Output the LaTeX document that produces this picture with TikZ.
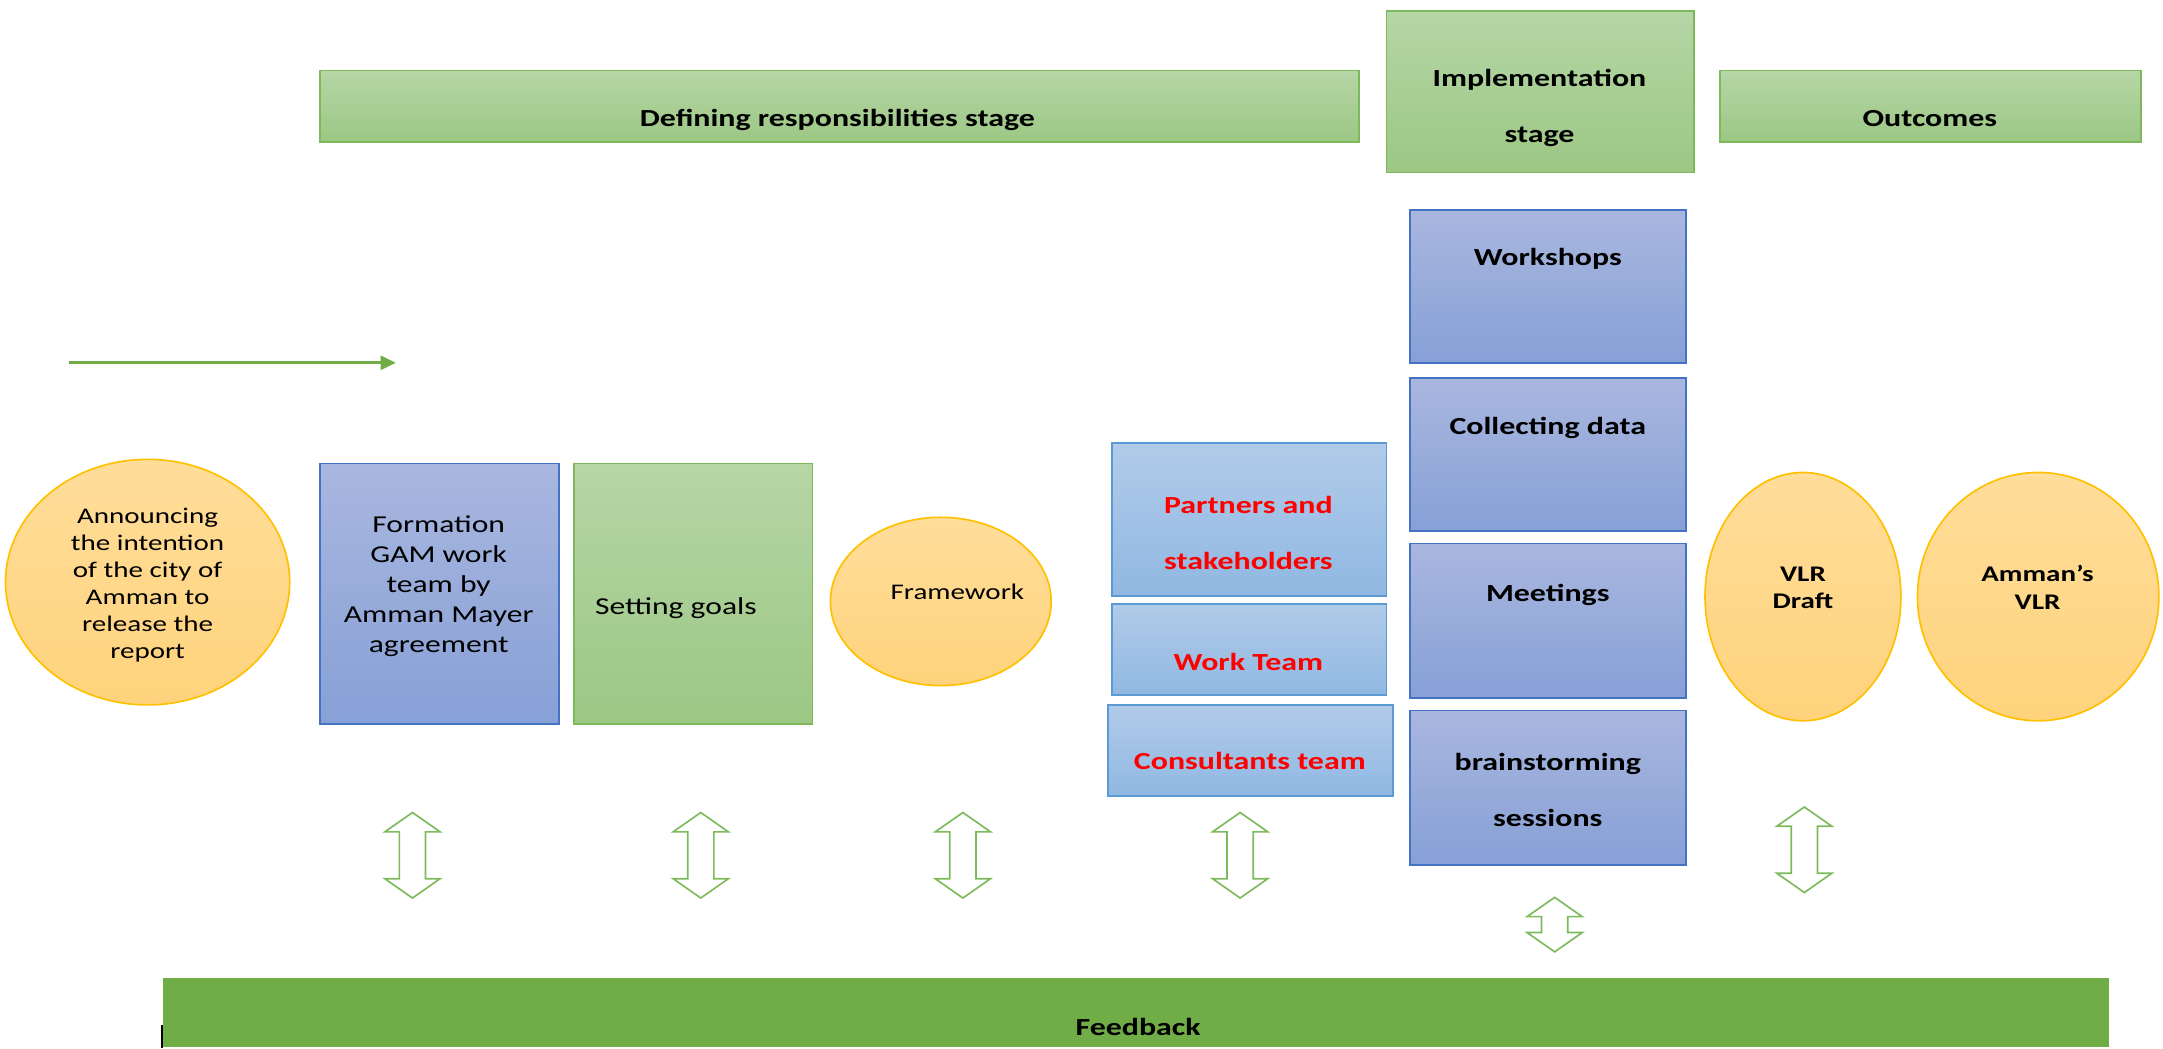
\documentclass[tikz,border=0pt]{standalone}
\usepackage{fontspec}
\setmainfont{Carlito}[FakeStretch=1.3]
\usetikzlibrary{shapes.geometric,fit,arrows.meta}
\definecolor{grnT}{HTML}{B6D6A6}
\definecolor{grnD}{HTML}{9CC784}
\definecolor{grnB}{HTML}{7DB95A}
\definecolor{bluT}{HTML}{A9B7DF}
\definecolor{bluD}{HTML}{87A0D6}
\definecolor{bluB}{HTML}{4472C4}
\definecolor{lbT}{HTML}{B1CBE9}
\definecolor{lbD}{HTML}{90B8E2}
\definecolor{lbB}{HTML}{5B9BD5}
\definecolor{orT}{HTML}{FFDD9A}
\definecolor{orD}{HTML}{FFD37C}
\definecolor{orB}{HTML}{FFC000}
\definecolor{fbG}{HTML}{70AD47}
\definecolor{arrG}{HTML}{7DBA5C}
\tikzset{
  gbox/.style={draw=grnB, line width=0.6pt, top color=grnT, bottom color=grnD, inner sep=0pt},
  bbox/.style={draw=bluB, line width=0.6pt, top color=bluT, bottom color=bluD, inner sep=0pt},
  lbox/.style={draw=lbB, line width=0.6pt, top color=lbT, bottom color=lbD, inner sep=0pt},
  oval/.style={ellipse, draw=orB, line width=0.6pt, top color=orT, bottom color=orD, inner sep=0pt},
  lbl/.style={font=\fontsize{8.8}{10.9}\selectfont, align=center, inner sep=0pt},
  slbl/.style={font=\fontsize{8.1}{9.75}\selectfont, align=center, inner sep=0pt},
  blbl/.style={font=\fontsize{8.9}{20.3}\selectfont\bfseries, align=center, inner sep=0pt},
  sblbl/.style={font=\fontsize{8.1}{10}\selectfont\bfseries, align=center, inner sep=0pt},
  rlbl/.style={blbl, text=red},
  darrow/.style={draw=arrG, line width=0.6pt, fill=white, line join=miter},
}
\newcommand\vdarrow[3]{%
  \draw[darrow] (#1,#2) -- (#1+20,#2+14) -- (#1+9.5,#2+14) -- (#1+9.5,#3-14)
    -- (#1+20,#3-14) -- (#1,#3) -- (#1-20,#3-14) -- (#1-9.5,#3-14)
    -- (#1-9.5,#2+14) -- (#1-20,#2+14) -- cycle;}
\begin{document}
\begin{tikzpicture}[x=0.5pt,y=-0.5pt]
\useasboundingbox (0,0) rectangle (1568,760);

% top stage headers
\node[gbox, fit={(232,51) (985,103)}] (def) {};
\node[blbl, anchor=mid] (deft) at (607,87) {Defining responsibilities stage};
\node[gbox, fit={(1005,8) (1228,125)}] (imp) {};
\node[blbl, anchor=center] (impt) at (1116,78) {Implementation\\stage};
\node[gbox, fit={(1247,51) (1552,103)}] (out) {};
\node[blbl, anchor=mid] (outt) at (1399,87) {Outcomes};

% green arrow
\coordinate (as) at (50,263);
\coordinate (ae) at (287,263);
\draw[fbG, line width=1pt, -{Triangle[length=5.5pt,width=5pt]}] (as) -- (ae);

% left part
\node[oval, minimum width=103pt, minimum height=89pt] (ann) at (107,422) {};
\node[slbl] (annt) at (107,424) {Announcing\\the intention\\of the city of\\Amman to\\release the\\report};
\node[bbox, fit={(232,336) (405,525)}] (form) {};
\node[lbl] (formt) at (318,425) {Formation\\GAM work\\team by\\Amman Mayer\\agreement};
\node[gbox, fit={(416,336) (589,525)}] (goal) {};
\node[lbl, anchor=mid west] (goalt) at (431,441) {Setting goals};
\node[oval, minimum width=80pt, minimum height=61pt] (fw) at (682,436) {};
\node[slbl, anchor=mid] (fwt) at (694,430) {Framework};

% partners column
\node[lbox, fit={(806,321) (1005,432)}] (part) {};
\node[rlbl] (partt) at (905,386) {Partners and\\stakeholders};
\node[lbox, fit={(806,438) (1005,504)}] (wt) {};
\node[rlbl, anchor=mid] (wtt) at (905,481) {Work Team};
\node[lbox, fit={(803,511) (1010,577)}] (cons) {};
\node[rlbl, anchor=mid] (const) at (906,553) {Consultants team};

% implementation column
\node[bbox, fit={(1022,152) (1222,263)}] (ws) {};
\node[blbl, anchor=mid] (wst) at (1122,188) {Workshops};
\node[bbox, fit={(1022,274) (1222,385)}] (cd) {};
\node[blbl, anchor=mid] (cdt) at (1122,310) {Collecting data};
\node[bbox, fit={(1022,394) (1222,506)}] (meet) {};
\node[blbl, anchor=mid] (meett) at (1122,431) {Meetings};
\node[bbox, fit={(1022,515) (1222,627)}] (brain) {};
\node[blbl] (braint) at (1122,573) {brainstorming\\sessions};

% outcomes
\node[oval, minimum width=71pt, minimum height=90pt] (vlr) at (1307,432.5) {};
\node[sblbl] (vlrt) at (1307,426) {VLR\\Draft};
\node[oval, minimum width=87.5pt, minimum height=90pt] (avlr) at (1477.5,432.5) {};
\node[sblbl] (avlrt) at (1477,426) {Amman’s\\VLR};

% double arrows
\vdarrow{299}{589}{651}
\vdarrow{508}{589}{651}
\vdarrow{698}{589}{651}
\vdarrow{899}{589}{651}
\vdarrow{1308}{585}{647}
\vdarrow{1127}{650.5}{690}

% feedback bar
\node[fill=fbG, inner sep=0pt, fit={(118.5,709) (1528.6,759)}] (fb) {};
\node[blbl, anchor=mid] (fbt) at (825,746) {Feedback};
\coordinate (tk1) at (117.5,743);
\coordinate (tk2) at (117.5,760);
\draw[black, line width=0.5pt] (tk1) -- (tk2);
\end{tikzpicture}
\end{document}
